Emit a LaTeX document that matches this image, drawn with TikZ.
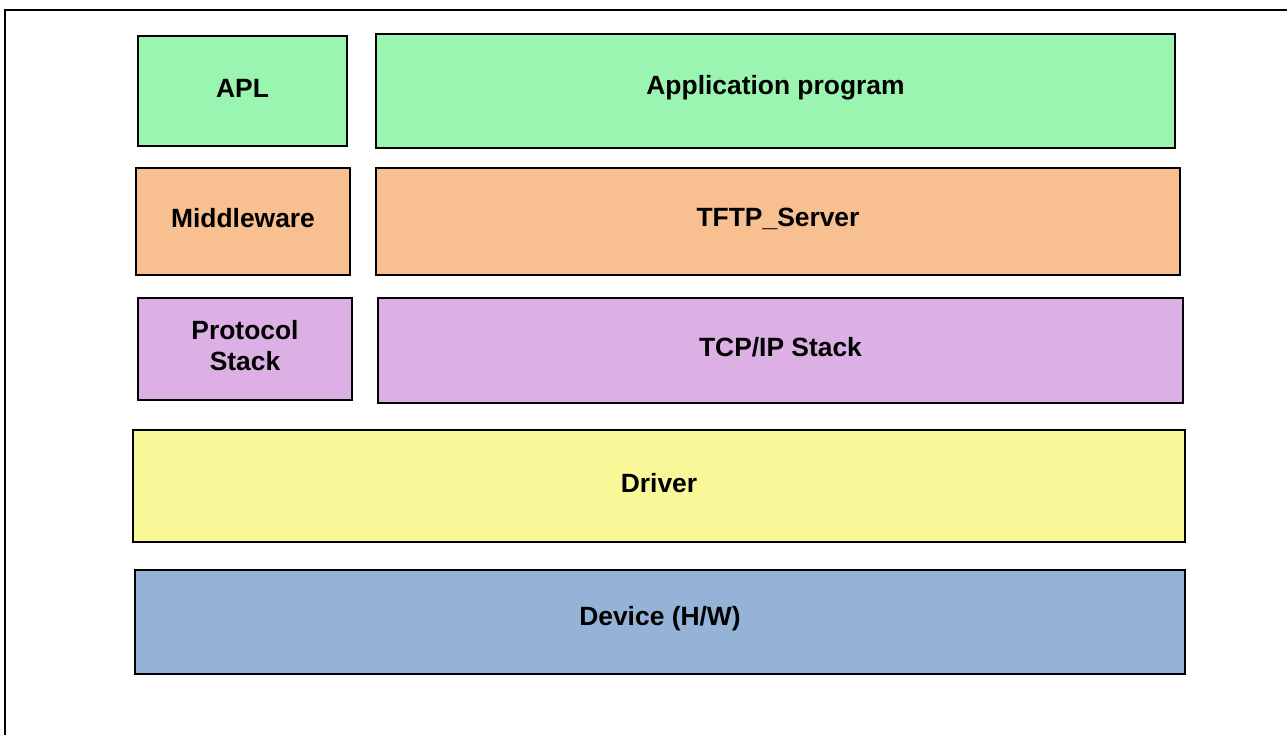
\documentclass[tikz,border=0pt]{standalone}
\usepackage{fontspec}
\setmainfont{Liberation Sans}
\definecolor{aplgreen}{HTML}{99F5B0}
\definecolor{midorange}{HTML}{F8C090}
\definecolor{protopurple}{HTML}{DCB0E4}
\definecolor{drvyellow}{HTML}{F8F898}
\definecolor{devblue}{HTML}{95B3D7}
\tikzset{
  layer/.style={draw=black, line width=2pt, rectangle, inner sep=0pt},
  lbl/.style={font=\fontsize{26.4}{31}\selectfont\bfseries, align=center, yshift=3pt},
}
\begin{document}
\begin{tikzpicture}[x=1pt, y=-1pt]
  \useasboundingbox (0,0) rectangle (1287,735);
  % outer frame
  \draw[line width=2pt] (5,760) -- (5,10) -- (1300,10);
  % application layer
  \node[layer, fill=aplgreen, minimum width=209pt, minimum height=110pt,
        label={[lbl]center:APL}] (apl) at (242.5,91) {};
  \node[layer, fill=aplgreen, minimum width=799pt, minimum height=114pt,
        label={[lbl]center:Application program}] (app) at (775.5,91) {};
  % middleware layer
  \node[layer, fill=midorange, minimum width=214pt, minimum height=107pt,
        label={[lbl]center:Middleware}] (mw) at (243,221.5) {};
  \node[layer, fill=midorange, minimum width=804pt, minimum height=107pt,
        label={[lbl]center:TFTP\_Server}] (tftp) at (778,221.5) {};
  % protocol stack layer
  \node[layer, fill=protopurple, minimum width=214pt, minimum height=102pt,
        label={[lbl]center:Protocol\\Stack}] (ps) at (245,349) {};
  \node[layer, fill=protopurple, minimum width=805pt, minimum height=105pt,
        label={[lbl]center:TCP/IP Stack}] (tcp) at (780.5,350.5) {};
  % driver layer
  \node[layer, fill=drvyellow, minimum width=1052pt, minimum height=112pt,
        label={[lbl]center:Driver}] (drv) at (659,486) {};
  % hardware layer
  \node[layer, fill=devblue, minimum width=1050pt, minimum height=104pt,
        label={[lbl]center:Device (H/W)}] (dev) at (660,622) {};
\end{tikzpicture}
\end{document}
